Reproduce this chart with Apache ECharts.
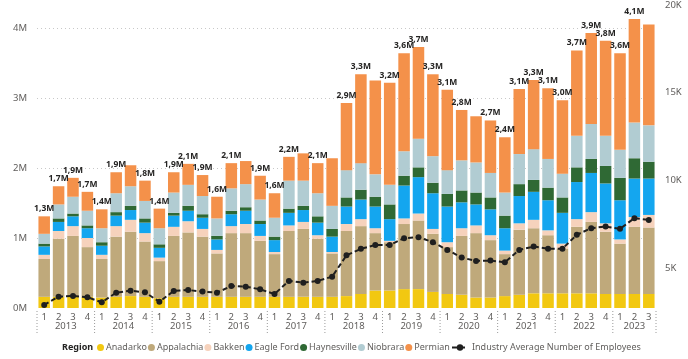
<!DOCTYPE html>
<html>
<head>
<meta charset="utf-8">
<script src="https://cdn.jsdelivr.net/npm/echarts@6/dist/echarts.min.js"></script>
<style>
html,body{margin:0;padding:0;background:#fff;}
#chart{width:688px;height:359px;}
</style>
</head>
<body>
<div id="chart"></div>
<script>
const years = ['2013','2014','2015','2016','2017','2018','2019','2020','2021','2022','2023'];
const categories = [
  '2013-1','2013-2','2013-3','2013-4','2014-1','2014-2','2014-3','2014-4',
  '2015-1','2015-2','2015-3','2015-4','2016-1','2016-2','2016-3','2016-4',
  '2017-1','2017-2','2017-3','2017-4','2018-1','2018-2','2018-3','2018-4',
  '2019-1','2019-2','2019-3','2019-4','2020-1','2020-2','2020-3','2020-4',
  '2021-1','2021-2','2021-3','2021-4','2022-1','2022-2','2022-3','2022-4',
  '2023-1','2023-2','2023-3'
];
// values in millions
const anadarko   = [.16,.16,.16,.16,.15,.16,.17,.16,.14,.16,.16,.16,.16,.16,.16,.16,.16,.16,.16,.16,.16,.17,.20,.25,.25,.27,.27,.23,.20,.19,.15,.15,.17,.19,.21,.21,.21,.21,.21,.20,.20,.20,.20];
const appalachia = [.54,.83,.87,.71,.55,.86,.92,.79,.53,.87,.92,.86,.62,.91,.91,.80,.61,.94,.97,.83,.62,.93,.97,.82,.69,.93,.98,.83,.67,.84,.92,.82,.60,.93,.93,.83,.64,.95,1.02,.89,.72,.96,.95];
const bakken     = [.06,.11,.14,.13,.06,.15,.17,.12,.05,.13,.16,.11,.05,.10,.13,.07,.03,.08,.10,.05,.02,.10,.10,.07,.02,.08,.10,.07,.07,.11,.11,.07,.05,.09,.12,.07,.07,.11,.14,.12,.06,.14,.18];
const eagleFord  = [.12,.13,.14,.14,.13,.15,.14,.15,.14,.16,.15,.16,.15,.17,.19,.17,.17,.18,.17,.18,.22,.25,.28,.31,.31,.47,.52,.51,.51,.37,.30,.37,.32,.39,.40,.43,.44,.53,.56,.57,.56,.55,.52];
const haynesville= [.04,.05,.04,.04,.05,.05,.06,.06,.05,.04,.07,.05,.05,.05,.05,.05,.05,.06,.06,.09,.11,.13,.14,.14,.21,.14,.14,.15,.18,.17,.17,.17,.18,.17,.17,.18,.22,.21,.20,.25,.32,.29,.24];
const niobrara   = [.14,.20,.24,.21,.20,.27,.28,.25,.23,.29,.30,.26,.25,.32,.33,.30,.27,.40,.36,.33,.33,.39,.38,.32,.28,.35,.41,.38,.34,.43,.43,.35,.33,.43,.44,.41,.34,.45,.50,.43,.40,.51,.52];
const permian    = [.25,.26,.27,.27,.27,.30,.30,.29,.28,.29,.30,.30,.31,.36,.33,.34,.35,.34,.39,.43,.68,.96,1.27,1.34,1.46,1.40,1.31,1.17,1.15,.72,.66,.75,.79,.93,.99,1.01,1.05,1.22,1.30,1.36,1.38,1.48,1.44];
const employees  = [2890,3360,3400,3330,3040,3590,3700,3610,3070,3690,3740,3650,3590,3970,3930,3780,3510,4260,4160,4260,4500,5720,6090,6310,6310,6700,6750,6470,6030,5590,5400,5420,5320,6030,6220,6100,6100,6890,7270,7360,7230,7840,7740];
const showTotal  = [1,1,1,1,1,1,0,1,1,1,1,1,1,1,0,1,1,1,0,1,0,1,1,0,1,1,1,1,1,1,0,1,1,1,1,1,1,1,1,1,1,1,0];
const regionNames = ['Anadarko','Appalachia','Bakken','Eagle Ford','Haynesville','Niobrara','Permian'];
const regionColors = ['#F2C811','#BFA97B','#F6D2BC','#14A6EF','#2F6934','#B1CCD2','#F4914A'];
const lineName = 'Industry Average Number of Employees';

const regionData = [anadarko, appalachia, bakken, eagleFord, haynesville, niobrara, permian];
const totals = categories.map((c, i) => regionData.reduce((s, arr) => s + arr[i], 0));
const yearSpans = years.map(y => {
  const idx = categories.map((c, i) => c.startsWith(y) ? i : -1).filter(i => i >= 0);
  return [idx[0], 0, idx[idx.length - 1]];
});

const FONT = '"Noto Sans", "Open Sans", sans-serif';

const series = regionNames.map((name, k) => {
  const s = {
    name: name,
    type: 'bar',
    stack: 'total',
    barCategoryGap: '20%',
    itemStyle: { color: regionColors[k] },
    emphasis: { disabled: true },
    data: regionData[k]
  };
  if (k === regionNames.length - 1) {
    s.data = regionData[k].map((v, i) => ({
      value: v,
      label: {
        show: !!showTotal[i],
        position: 'top',
        distance: 3,
        formatter: () => (Math.round(totals[i] * 10) / 10).toFixed(1).replace('.', ',') + 'M',
        fontSize: 8.5,
        fontWeight: 'bold',
        fontFamily: FONT,
        color: '#252423'
      }
    }));
  }
  return s;
});

series.push({
  name: lineName,
  type: 'line',
  yAxisIndex: 1,
  data: employees,
  symbol: 'circle',
  symbolSize: 6,
  itemStyle: { color: '#1f1f1f' },
  lineStyle: { color: '#1f1f1f', width: 2, type: [5, 3] },
  z: 5,
  emphasis: { disabled: true }
});

series.push({
  type: 'custom',
  name: 'years',
  silent: true,
  xAxisIndex: 0,
  yAxisIndex: 0,
  encode: { x: 0, y: 1 },
  data: yearSpans,
  z: 10,
  renderItem: function (params, api) {
    const s = api.value(0), e = api.value(2);
    const band = api.size([1, 0])[0];
    const p0 = api.coord([s, 0]);
    const p1 = api.coord([e, 0]);
    const xl = p0[0] - band / 2, xr = p1[0] + band / 2;
    const y0 = p0[1];
    const lineStyle = { stroke: '#9a9a9a', lineWidth: 1, lineDash: [1, 2] };
    const children = [
      { type: 'line', shape: { x1: xl, y1: y0 + 3, x2: xl, y2: y0 + 25 }, style: lineStyle },
      { type: 'text', style: { text: years[params.dataIndex], x: (xl + xr) / 2, y: y0 + 18, align: 'center', verticalAlign: 'middle', fill: '#605E5C', font: '9.5px ' + FONT } }
    ];
    if (params.dataIndex === years.length - 1) {
      children.push({ type: 'line', shape: { x1: xr, y1: y0 + 3, x2: xr, y2: y0 + 25 }, style: lineStyle });
    }
    return { type: 'group', children: children };
  }
});

const chart = echarts.init(document.getElementById('chart'));
chart.setOption({
  animation: false,
  textStyle: { fontFamily: FONT },
  grid: { left: 37, right: 32, top: 5, bottom: 51, containLabel: false },
  title: {
    text: 'Region',
    left: 57, top: 338,
    textStyle: { fontSize: 9, fontWeight: 'bold', color: '#252423', fontFamily: FONT }
  },
  legend: [
    {
      data: regionNames,
      left: 92, top: 338,
      icon: 'circle',
      itemWidth: 7, itemHeight: 7, itemGap: 1,
      textStyle: { fontSize: 9, color: '#605E5C', fontFamily: FONT, padding: [0, 0, 0, -3] },
      selectedMode: false
    },
    {
      data: [lineName],
      left: 446, top: 338,
      itemWidth: 16, itemHeight: 8,
      textStyle: { fontSize: 9, color: '#605E5C', fontFamily: FONT, padding: [0, 0, 0, -1] },
      selectedMode: false
    }
  ],
  xAxis: {
    type: 'category',
    data: categories,
    axisLine: { show: false },
    axisTick: { show: false },
    axisLabel: {
      interval: 0,
      margin: 4,
      fontSize: 9.5,
      color: '#605E5C',
      formatter: v => v.split('-')[1]
    }
  },
  yAxis: [
    {
      type: 'value',
      min: 0, max: 4.33, interval: 1,
      axisLabel: { formatter: v => v + 'M', fontSize: 9.5, color: '#605E5C', showMaxLabel: false, margin: 10 },
      splitLine: { lineStyle: { color: '#c8c8c8', type: [1, 3] }, showMaxLine: false, showMinLine: false },
      axisLine: { show: false }, axisTick: { show: false }
    },
    {
      type: 'value',
      min: 2714, max: 20000, splitNumber: 4,
      position: 'right',
      axisLabel: { formatter: v => (v / 1000) + 'K', fontSize: 9.5, color: '#605E5C', showMinLabel: false, margin: 9 },
      splitLine: { show: false },
      axisLine: { show: false }, axisTick: { show: false }
    }
  ],
  series: series
});
</script>
</body>
</html>
